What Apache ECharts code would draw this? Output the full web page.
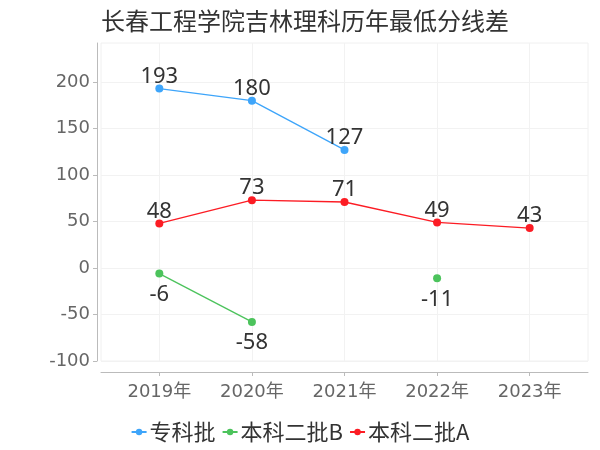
<!DOCTYPE html>
<html>
<head>
<meta charset="utf-8">
<script src="https://cdn.jsdelivr.net/npm/echarts@6/dist/echarts.min.js"></script>
<style>html,body{margin:0;padding:0;background:#fff}#c{width:600px;height:450px}</style>
</head>
<body>
<div id="c"></div>
<script>
var titleText = '长春工程学院吉林理科历年最低分线差';
var years = ['2019年', '2020年', '2021年', '2022年', '2023年'];
var seriesNames = ['专科批', '本科二批B', '本科二批A'];
var zhuanke = [193, 180, 127, null, null];
var benB = [-6, -58, null, -11, null];
var benA = [48, 73, 71, 49, 43];
var yTicks = [-100, -50, 0, 50, 100, 150, 200];

var colors = ['#3ea5fa', '#4cc35c', '#fc1c24'];
var xIdx = years.map(function (_, i) { return i; });
function pairs(arr) { return arr.map(function (v, i) { return [i, v == null ? '-' : v]; }); }
var FONT = '"DejaVu Sans", "Noto Sans CJK SC", sans-serif';
var CJK = '"Noto Sans CJK SC", sans-serif';
var LBL = '"Noto Sans", sans-serif';

var chart = echarts.init(document.getElementById('c'), null, { renderer: 'canvas' });
function mk(name, arr, color, pos, dist) {
  return {
    name: name, type: 'line', data: pairs(arr), connectNulls: false,
    symbol: 'circle', symbolSize: 8,
    itemStyle: { color: color }, lineStyle: { color: color, width: 1.3 },
    label: { show: true, position: pos, distance: dist, fontSize: 22, color: '#333', fontFamily: LBL }
  };
}
chart.setOption({
  animation: false,
  color: colors,
  title: { text: titleText, left: 96, top: 4, textStyle: { fontSize: 24, fontWeight: 'normal', color: '#333', fontFamily: CJK } },
  legend: {
    bottom: 2, left: 'center', itemWidth: 15, itemHeight: 8, itemGap: 6,
    textStyle: { fontSize: 22, color: '#333', padding: [0, 0, 0, -2], fontFamily: CJK },
    data: seriesNames
  },
  grid: { left: 101, right: 12, top: 43, bottom: 89, show: true, borderColor: '#f0f0f0', borderWidth: 1 },
  xAxis: {
    type: 'value', min: -0.63, max: 4.63, offset: 11,
    axisLine: { show: true, onZero: false, lineStyle: { color: '#bbb' } },
    axisTick: { show: true, length: 4, customValues: xIdx, lineStyle: { color: '#bbb' } },
    axisLabel: { customValues: xIdx, fontSize: 18, color: '#666', margin: 11, fontFamily: FONT, formatter: function (v) { return years[Math.round(v)]; } },
    splitLine: { show: true, customValues: xIdx, lineStyle: { color: '#f2f2f2' } }
  },
  yAxis: {
    type: 'value', min: -100, max: 242, interval: 50, offset: 4,
    axisLine: { show: true, onZero: false, lineStyle: { color: '#bbb' } },
    axisTick: { show: true, length: 4, customValues: yTicks, lineStyle: { color: '#bbb' } },
    axisLabel: { customValues: yTicks, fontSize: 18, color: '#666', margin: 7, fontFamily: FONT },
    splitLine: { show: true, lineStyle: { color: '#f2f2f2' } }
  },
  series: [
    mk(seriesNames[0], zhuanke, colors[0], 'top', -3),
    mk(seriesNames[1], benB, colors[1], 'bottom', 6),
    mk(seriesNames[2], benA, colors[2], 'top', -3)
  ]
});
</script>
</body>
</html>
